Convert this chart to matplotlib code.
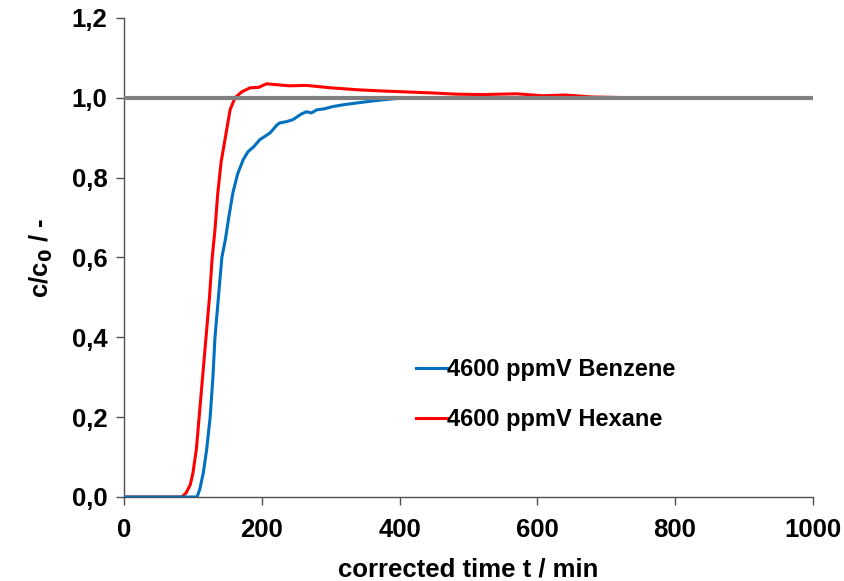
import matplotlib
matplotlib.use('Agg')
import matplotlib.pyplot as plt
from matplotlib.ticker import FuncFormatter

plt.rcParams['font.family'] = ['Liberation Sans', 'DejaVu Sans']

# breakthrough curves
t_hexane = [0, 84, 90, 96, 100, 105, 109, 114, 119, 124, 128, 132, 136, 141, 147,
            154, 161, 171, 183, 195, 207, 220, 240, 265, 300, 340, 376, 420, 449,
            483, 520, 570, 608, 640, 680, 742, 800, 900, 1000]
c_hexane = [0, 0, 0.01, 0.03, 0.06, 0.12, 0.2, 0.3, 0.4, 0.5, 0.6, 0.67, 0.76, 0.84, 0.9,
            0.97, 1.0, 1.015, 1.025, 1.026, 1.035, 1.033, 1.03, 1.031, 1.025, 1.02, 1.017,
            1.014, 1.012, 1.009, 1.008, 1.01, 1.005, 1.007, 1.002, 1.0, 1.0, 1.0, 1.0]

t_benzene = [0, 100, 106, 110, 115, 120, 125, 129, 132, 137, 142, 147, 152, 158, 165,
             173, 180, 188, 197, 212, 222, 226, 235, 245, 251, 258, 265, 272, 280, 290,
             303, 320, 338, 356, 376, 395, 415, 450, 500, 600, 742]
c_benzene = [0, 0, 0, 0.02, 0.06, 0.12, 0.2, 0.3, 0.4, 0.5, 0.6, 0.644, 0.7, 0.762, 0.81,
             0.845, 0.865, 0.877, 0.895, 0.912, 0.932, 0.937, 0.94, 0.945, 0.952, 0.96,
             0.965, 0.962, 0.97, 0.972, 0.978, 0.983, 0.987, 0.991, 0.995, 0.998, 1.0,
             1.0, 1.0, 1.0, 1.0]

label_benzene = '4600 ppmV Benzene'
label_hexane = '4600 ppmV Hexane'

fig = plt.figure(figsize=(8.44, 5.81), dpi=100)
ax = fig.add_axes([0.147, 0.1446, 0.816, 0.8245])

ax.plot(t_hexane, c_hexane, color='#FF0000', lw=2.2, label=label_hexane, zorder=2)
ax.plot(t_benzene, c_benzene, color='#0070C0', lw=2.2, label=label_benzene, zorder=3)
ax.axhline(1.0, color='#808080', lw=3.0, zorder=4)

ax.set_xlim(0, 1000)
ax.set_ylim(0, 1.2)
ax.set_xticks(range(0, 1001, 200))
ax.set_yticks([0, 0.2, 0.4, 0.6, 0.8, 1.0, 1.2])
ax.yaxis.set_major_formatter(FuncFormatter(lambda v, p: f'{v:.1f}'.replace('.', ',')))

for s in ['top', 'right']:
    ax.spines[s].set_visible(False)
for s in ['left', 'bottom']:
    ax.spines[s].set_color('#505050')
    ax.spines[s].set_linewidth(1.0)
ax.tick_params(direction='out', length=6, width=1, color='#505050',
               labelsize=18.5)
ax.tick_params(axis='y', pad=6)
ax.tick_params(axis='x', pad=9)
for lab in ax.get_xticklabels() + ax.get_yticklabels():
    lab.set_fontweight('bold')

ax.set_xlabel('corrected time t / min', fontsize=18.5, fontweight='bold', labelpad=11)
ax.set_ylabel('c/c$_\\mathbf{0}$ / -', fontsize=18.5, fontweight='bold', labelpad=12)

h, l = ax.get_legend_handles_labels()
ax.legend([h[1], h[0]], [l[1], l[0]], loc='upper left',
          bbox_to_anchor=(416 / 844, 1 - 358 / 581), bbox_transform=fig.transFigure,
          frameon=False, handlelength=1.3, handletextpad=0.0, labelspacing=1.15,
          borderaxespad=0, borderpad=0, prop={'size': 17, 'weight': 'bold'})

fig.savefig('out.png', dpi=100)
